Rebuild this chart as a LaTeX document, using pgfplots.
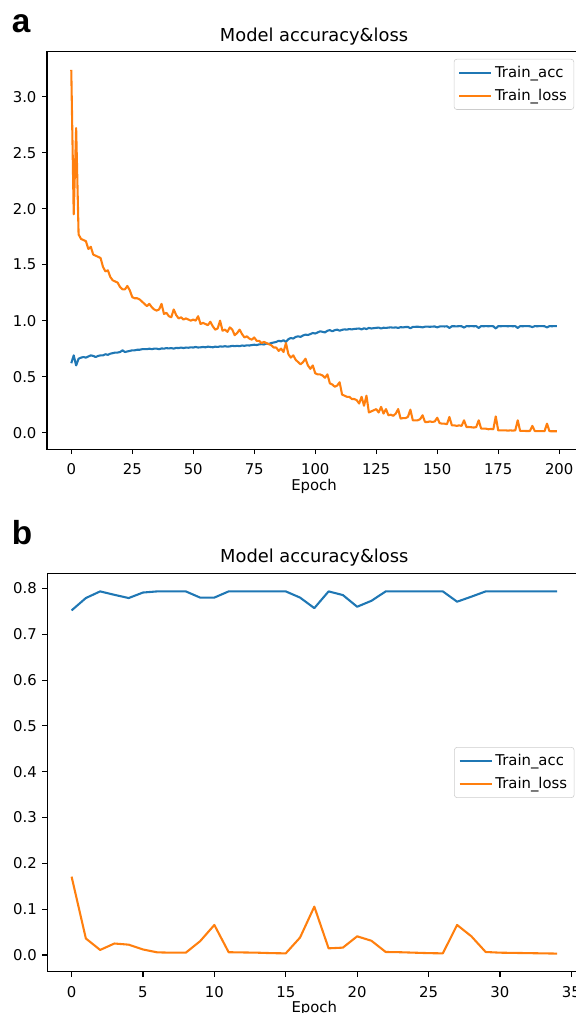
\documentclass[border=0pt]{standalone}
\usepackage{fontspec}
\setmainfont{DejaVu Sans}
\newfontfamily\panelfont{Liberation Sans}
\usepackage{pgfplots}
\pgfplotsset{compat=1.18}
\definecolor{tabblue}{HTML}{1F77B4}
\definecolor{taborange}{HTML}{FF7F0E}

% matplotlib-like look, 1px = 0.72pt
\pgfplotsset{mpl/.style={
  scale only axis, width=384.5pt,
  axis line style={line width=0.8pt, black},
  tick align=outside, major tick length=3.5pt,
  every tick/.style={line width=0.8pt, black},
  xtick pos=lower, ytick pos=left,
  minor tick num=0,
  /pgf/number format/assume math mode=true,
  tick label style={font=\fontsize{10.7}{12.8}\selectfont, inner sep=0pt},
  xticklabel style={anchor=base, yshift=-15pt},
  yticklabel style={anchor=east, xshift=-3.9pt},
  title style={font=\fontsize{12.85}{15}\selectfont, at={(axis description cs:0.5,1)},
    anchor=base, yshift=1.5pt, inner sep=0pt},
  xlabel style={font=\fontsize{10.7}{12.8}\selectfont, at={(axis description cs:0.5,0)},
    anchor=base, yshift=-29.7pt, inner sep=0pt},
  legend style={font=\fontsize{10.7}{12.8}\selectfont, draw=black!20, fill=white,
    rounded corners=2pt, inner xsep=3pt, inner ysep=3pt, row sep=3pt,
    cells={anchor=west}},
  legend image code/.code={\draw[#1] (0pt,0pt) -- (23pt,0pt);},
  every axis plot/.append style={line width=1.5pt, line join=round},
}}

\begin{document}
\begin{tikzpicture}

\node[anchor=base west, inner sep=0pt, font=\panelfont\bfseries\fontsize{24}{28}\selectfont] at (8.28pt,706.1pt) {a};
\node[anchor=base west, inner sep=0pt, font=\panelfont\bfseries\fontsize{24}{28}\selectfont] at (8.28pt,336.96pt) {b};

% ---- panel a
\begin{axis}[mpl, at={(33.84pt,405.86pt)}, anchor=south west,
  height=286.1pt,
  xmin=-9.95, xmax=208.95, ymin=-0.149, ymax=3.40,
  xtick={0,25,...,200}, ytick={0,0.5,...,3.0},
  yticklabel style={/pgf/number format/.cd, fixed, fixed zerofill, precision=1},
  title={Model accuracy\&loss}, xlabel={Epoch},
  legend style={at={(1,1)}, anchor=north east, xshift=-5pt, yshift=-5pt},
]
\addplot[tabblue] coordinates {
(0,0.62)(1,0.69)(2,0.60)(3,0.66)(4,0.67)(5,0.675)(6,0.67)(7,0.68)(8,0.69)(9,0.685)
(10,0.675)(11,0.685)(12,0.69)(13,0.69)(14,0.70)(15,0.695)(16,0.705)(17,0.71)(18,0.715)(19,0.715)
(20,0.72)(21,0.735)(22,0.72)(23,0.725)(24,0.73)(25,0.735)(26,0.735)(27,0.74)(28,0.74)(29,0.745)
(30,0.745)(31,0.745)(32,0.75)(33,0.745)(34,0.75)(35,0.75)(36,0.745)(37,0.752)(38,0.75)(39,0.755)
(40,0.752)(41,0.755)(42,0.75)(43,0.757)(44,0.755)(45,0.76)(46,0.755)(47,0.76)(48,0.758)(49,0.762)
(50,0.76)(51,0.765)(52,0.76)(53,0.762)(54,0.765)(55,0.762)(56,0.768)(57,0.765)(58,0.762)(59,0.768)
(60,0.765)(61,0.77)(62,0.768)(63,0.772)(64,0.768)(65,0.77)(66,0.775)(67,0.772)(68,0.775)(69,0.772)
(70,0.778)(71,0.775)(72,0.78)(73,0.778)(74,0.782)(75,0.785)(76,0.782)(77,0.788)(78,0.79)(79,0.787)
(80,0.795)(81,0.792)(82,0.80)(83,0.805)(84,0.81)(85,0.82)(86,0.815)(87,0.825)(88,0.81)(89,0.835)
(90,0.845)(91,0.84)(92,0.855)(93,0.86)(94,0.855)(95,0.868)(96,0.875)(97,0.872)(98,0.88)(99,0.89)
(100,0.885)(101,0.895)(102,0.905)(103,0.90)(104,0.895)(105,0.91)(106,0.915)(107,0.905)(108,0.915)(109,0.92)
(110,0.91)(111,0.918)(112,0.922)(113,0.92)(114,0.925)(115,0.922)(116,0.926)(117,0.928)(118,0.93)(119,0.922)
(120,0.932)(121,0.925)(122,0.935)(123,0.93)(124,0.933)(125,0.936)(126,0.938)(127,0.93)(128,0.937)(129,0.935)
(130,0.938)(131,0.94)(132,0.937)(133,0.94)(134,0.935)(135,0.942)(136,0.94)(137,0.943)(138,0.944)(139,0.932)
(140,0.944)(141,0.945)(142,0.946)(143,0.944)(144,0.94)(145,0.946)(146,0.947)(147,0.945)(148,0.947)(149,0.948)
(150,0.94)(151,0.948)(152,0.949)(153,0.948)(154,0.95)(155,0.935)(156,0.95)(157,0.95)(158,0.949)(159,0.951)
(160,0.95)(161,0.938)(162,0.951)(163,0.95)(164,0.951)(165,0.95)(166,0.951)(167,0.935)(168,0.951)(169,0.95)
(170,0.951)(171,0.95)(172,0.951)(173,0.95)(174,0.93)(175,0.951)(176,0.95)(177,0.951)(178,0.951)(179,0.95)
(180,0.951)(181,0.95)(182,0.951)(183,0.935)(184,0.951)(185,0.95)(186,0.951)(187,0.951)(188,0.95)(189,0.943)
(190,0.951)(191,0.95)(192,0.951)(193,0.951)(194,0.95)(195,0.94)(196,0.951)(197,0.95)(198,0.951)(199,0.951)
};
\addlegendentry{Train\_acc}
\addplot[taborange] coordinates {
(0,3.24)(1,1.95)(2,2.72)(3,1.77)(4,1.73)(5,1.72)(6,1.71)(7,1.64)(8,1.66)(9,1.59)
(10,1.58)(11,1.57)(12,1.56)(13,1.48)(14,1.44)(15,1.45)(16,1.39)(17,1.36)(18,1.35)(19,1.34)
(20,1.30)(21,1.28)(22,1.28)(23,1.31)(24,1.27)(25,1.21)(26,1.20)(27,1.20)(28,1.19)(29,1.17)
(30,1.15)(31,1.13)(32,1.15)(33,1.12)(34,1.10)(35,1.09)(36,1.10)(37,1.15)(38,1.06)(39,1.07)
(40,1.04)(41,1.03)(42,1.10)(43,1.05)(44,1.02)(45,1.03)(46,1.01)(47,1.02)(48,1.01)(49,1.00)
(50,1.01)(51,1.00)(52,1.04)(53,0.97)(54,0.98)(55,0.97)(56,0.96)(57,0.99)(58,0.95)(59,0.92)
(60,0.93)(61,1.00)(62,0.91)(63,0.92)(64,0.90)(65,0.94)(66,0.92)(67,0.87)(68,0.89)(69,0.92)
(70,0.88)(71,0.85)(72,0.86)(73,0.84)(74,0.83)(75,0.85)(76,0.82)(77,0.82)(78,0.80)(79,0.81)
(80,0.80)(81,0.79)(82,0.78)(83,0.76)(84,0.76)(85,0.73)(86,0.75)(87,0.72)(88,0.80)(89,0.70)
(90,0.67)(91,0.69)(92,0.65)(93,0.63)(94,0.61)(95,0.63)(96,0.66)(97,0.60)(98,0.57)(99,0.60)
(100,0.53)(101,0.52)(102,0.52)(103,0.51)(104,0.49)(105,0.52)(106,0.44)(107,0.43)(108,0.41)(109,0.42)
(110,0.45)(111,0.34)(112,0.33)(113,0.32)(114,0.32)(115,0.30)(116,0.30)(117,0.29)(118,0.26)(119,0.32)
(120,0.24)(121,0.33)(122,0.18)(123,0.19)(124,0.20)(125,0.21)(126,0.18)(127,0.23)(128,0.17)(129,0.21)
(130,0.155)(131,0.16)(132,0.15)(133,0.17)(134,0.21)(135,0.125)(136,0.13)(137,0.13)(138,0.14)(139,0.205)
(140,0.11)(141,0.11)(142,0.11)(143,0.12)(144,0.155)(145,0.095)(146,0.095)(147,0.10)(148,0.095)(149,0.10)
(150,0.133)(151,0.085)(152,0.08)(153,0.08)(154,0.075)(155,0.14)(156,0.065)(157,0.065)(158,0.06)(159,0.065)
(160,0.06)(161,0.11)(162,0.05)(163,0.05)(164,0.048)(165,0.045)(166,0.05)(167,0.11)(168,0.036)(169,0.035)
(170,0.035)(171,0.03)(172,0.033)(173,0.03)(174,0.145)(175,0.02)(176,0.02)(177,0.02)(178,0.02)(179,0.018)
(180,0.02)(181,0.018)(182,0.02)(183,0.11)(184,0.015)(185,0.015)(186,0.015)(187,0.014)(188,0.015)(189,0.06)
(190,0.014)(191,0.014)(192,0.013)(193,0.014)(194,0.013)(195,0.08)(196,0.013)(197,0.012)(198,0.012)(199,0.012)
};
\addlegendentry{Train\_loss}
\end{axis}

% ---- panel b
\begin{axis}[mpl, at={(34.06pt,29.74pt)}, anchor=south west,
  height=286.85pt,
  xmin=-1.7, xmax=35.7, ymin=-0.0365, ymax=0.833,
  xtick={0,5,...,35}, ytick={0,0.1,...,0.8},
  yticklabel style={/pgf/number format/.cd, fixed, fixed zerofill, precision=1},
  title={Model accuracy\&loss}, xlabel={Epoch},
  legend style={at={(1,0.5)}, anchor=east, xshift=-5pt},
]
\addplot[tabblue] coordinates {
(0,0.752)(1,0.779)(2,0.7935)(3,0.786)(4,0.779)(5,0.791)(6,0.7935)(7,0.7935)(8,0.7935)(9,0.780)
(10,0.780)(11,0.7935)(12,0.7935)(13,0.7935)(14,0.7935)(15,0.7935)(16,0.780)(17,0.757)(18,0.7935)(19,0.7855)
(20,0.760)(21,0.773)(22,0.7935)(23,0.7935)(24,0.7935)(25,0.7935)(26,0.7935)(27,0.771)(28,0.782)(29,0.7935)
(30,0.7935)(31,0.7935)(32,0.7935)(33,0.7935)(34,0.7935)
};
\addlegendentry{Train\_acc}
\addplot[taborange] coordinates {
(0,0.171)(1,0.036)(2,0.011)(3,0.025)(4,0.0225)(5,0.012)(6,0.0057)(7,0.005)(8,0.005)(9,0.030)
(10,0.0655)(11,0.006)(12,0.0055)(13,0.005)(14,0.004)(15,0.0035)(16,0.038)(17,0.1055)(18,0.0145)(19,0.016)
(20,0.0407)(21,0.031)(22,0.0065)(23,0.006)(24,0.005)(25,0.004)(26,0.0035)(27,0.0655)(28,0.0407)(29,0.0065)
(30,0.005)(31,0.0045)(32,0.004)(33,0.0035)(34,0.003)
};
\addlegendentry{Train\_loss}
\end{axis}

\pgfresetboundingbox
\path[use as bounding box] (0pt,0pt) rectangle (414.72pt,729.36pt);
\end{tikzpicture}
\end{document}
